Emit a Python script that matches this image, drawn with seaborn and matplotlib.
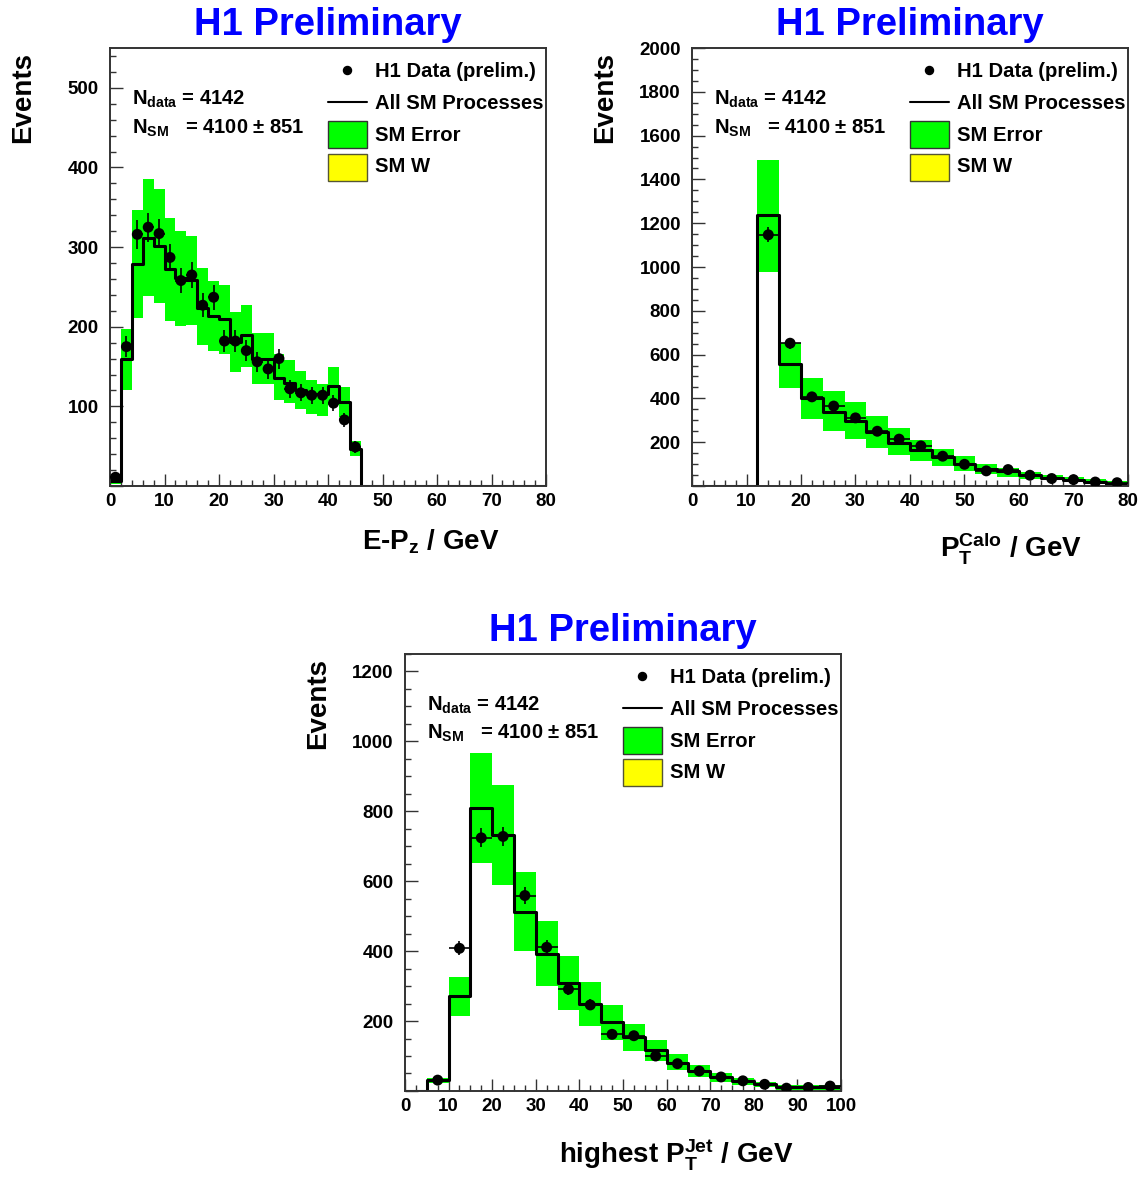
import numpy as np
import pandas as pd
import matplotlib
matplotlib.use("Agg")
import matplotlib.pyplot as plt
import seaborn as sns
from matplotlib.patches import Rectangle
from matplotlib.ticker import MultipleLocator, FuncFormatter

# ---- E-Pz distribution, 2 GeV bins starting at 0 ----
EPZ_BIN_LO = np.arange(0, 46, 2)
EPZ_DATA = [11, 175, 316, 325, 317, 287, 258, 265, 227, 237, 182, 182,
            170, 156, 147, 160, 122, 117, 114, 114, 104, 83, 49]
EPZ_SM = [6, 159, 279, 311, 301, 272, 261, 259, 223, 214, 210, 181,
          189, 159, 159, 135, 129, 120, 116, 115, 125, 106, 47]
EPZ_ERR_LO = [2, 120, 211, 238, 230, 207, 201, 202, 177, 169, 166, 143,
              150, 128, 128, 108, 104, 97, 91, 88, 102, 87, 38]
EPZ_ERR_HI = [14, 197, 346, 385, 373, 337, 320, 314, 274, 258, 253, 218,
              227, 192, 192, 166, 158, 144, 133, 128, 149, 124, 56]

# ---- PT calo, 4 GeV bins starting at 12 ----
CALO_BIN_LO = np.arange(12, 80, 4)
CALO_DATA = [1147, 652, 407, 365, 311, 250, 214, 183, 136, 99, 69, 75,
             49, 34, 29, 18, 15]
CALO_SM = [1236, 556, 400, 339, 298, 247, 198, 163, 133, 102, 79, 69,
           49, 38, 26, 18, 11]
CALO_ERR_LO = [975, 449, 307, 252, 215, 174, 142, 114, 92, 69, 57, 41,
               34, 26, 18, 11, 8]
CALO_ERR_HI = [1490, 655, 492, 433, 382, 319, 266, 212, 171, 136, 102, 84,
               64, 49, 41, 31, 23]

# ---- highest PT jet, 5 GeV bins starting at 5 ----
JET_BIN_LO = np.arange(5, 100, 5)
JET_DATA = [31, 408, 724, 728, 559, 411, 291, 246, 162, 158, 100, 78,
            57, 40, 29, 19, 8, 10, 14]
JET_SM = [31, 272, 809, 733, 513, 392, 310, 248, 196, 155, 117, 81,
          57, 40, 29, 19, 11, 10, 10]
JET_ERR_LO = [24, 215, 651, 590, 399, 299, 232, 186, 146, 115, 86, 60,
              41, 27, 17, 11, 4, 3, 2]
JET_ERR_HI = [38, 327, 968, 874, 625, 487, 387, 312, 246, 191, 146, 105,
              74, 52, 38, 27, 18, 16, 16]

N_DATA = 4142
N_SM = 4100
N_SM_ERR = 851

GREEN = "#00ff00"
YELLOW = "#ffff00"
BLUE = "#0000ff"

sns.set_theme(style="ticks")
plt.rcParams.update({
    "font.family": ["Liberation Sans", "DejaVu Sans"],
    "font.weight": "bold",
    "mathtext.fontset": "custom",
    "mathtext.rm": "Liberation Sans:bold",
    "mathtext.it": "Liberation Sans:bold",
    "mathtext.bf": "Liberation Sans:bold",
    "mathtext.sf": "Liberation Sans:bold",
    "mathtext.default": "rm",
    "text.color": "black",
    "axes.labelcolor": "black",
    "xtick.color": "black",
    "ytick.color": "black",
    "axes.linewidth": 1.4,
    "axes.edgecolor": "#333333",
    "xtick.direction": "in",
    "ytick.direction": "in",
})


def no_zero(v, pos):
    return "" if abs(v) < 1e-9 else f"{v:.0f}"


def draw_panel(ax, bin_lo, width, xmax, data, sm, err_lo, err_hi,
               ymax, ymajor, yminor, xmajor, xminor, xlabel, xlab_x, xlab_y):
    bin_lo = np.asarray(bin_lo, dtype=float)
    data = np.asarray(data, dtype=float)
    lo = np.asarray(err_lo, dtype=float)
    hi = np.asarray(err_hi, dtype=float)
    centers = bin_lo + width / 2
    df = pd.DataFrame({"x": centers, "sm": np.asarray(sm, dtype=float),
                       "data": data})

    # SM error band
    ax.bar(bin_lo, hi - lo, bottom=lo, width=width, align="edge",
           color=GREEN, linewidth=0, zorder=1)

    # all SM processes histogram
    edges = [float(e) for e in np.arange(0, xmax + width / 2, width)]
    sns.histplot(data=df, x="x", weights="sm", bins=edges, element="step",
                 fill=False, color="black", linewidth=2.2, ax=ax, zorder=2)

    # data points
    ax.errorbar(centers, data, yerr=np.sqrt(data), xerr=width / 2,
                fmt="none", ecolor="black", elinewidth=1.2, capsize=0,
                zorder=3)
    sns.scatterplot(data=df, x="x", y="data", color="black", s=62,
                    edgecolor="none", ax=ax, zorder=4)

    ax.set_xlim(0, xmax)
    ax.set_ylim(0, ymax)
    ax.xaxis.set_major_locator(MultipleLocator(xmajor))
    ax.xaxis.set_minor_locator(MultipleLocator(xminor))
    ax.yaxis.set_major_locator(MultipleLocator(ymajor))
    ax.yaxis.set_minor_locator(MultipleLocator(yminor))
    ax.yaxis.set_major_formatter(FuncFormatter(no_zero))
    ax.tick_params(which="major", length=9, width=1.0, labelsize=13.5,
                   top=False, right=False, color="#333333")
    ax.tick_params(which="minor", length=4.5, width=1.0,
                   top=False, right=False, color="#333333")
    ax.tick_params(axis="y", pad=8)
    ax.tick_params(axis="x", pad=5)
    for s in ax.spines.values():
        s.set_visible(True)
    ax.set_xlabel("")
    ax.set_ylabel("")

    ax.text(0.5, 1.061, "H1 Preliminary", transform=ax.transAxes,
            ha="center", va="center_baseline", color=BLUE, fontsize=27.5,
            fontweight="bold")
    ax.text(-0.2, 0.991, "Events", transform=ax.transAxes, rotation=90,
            ha="center", va="top", fontsize=20, fontweight="bold")
    ax.text(xlab_x, xlab_y, xlabel, transform=ax.transAxes,
            ha="right", va="baseline", fontsize=20, fontweight="bold")

    # event counts
    ax.text(0.05, 0.870, r"$N_{data}$" + f" = {N_DATA}",
            transform=ax.transAxes, ha="left", va="baseline", fontsize=14.5)
    ax.text(0.05, 0.805, r"$N_{SM}$" + f"   = {N_SM} ± {N_SM_ERR}",
            transform=ax.transAxes, ha="left", va="baseline", fontsize=14.5)

    # legend
    tx = 0.608
    rows = [0.950, 0.877, 0.805, 0.733]
    ax.plot([0.5436], [rows[0]], "o", color="black", ms=5.8,
            transform=ax.transAxes, clip_on=False, zorder=6)
    ax.plot([0.5, 0.5894], [rows[1], rows[1]], color="black", lw=1.5,
            transform=ax.transAxes, clip_on=False, zorder=6)
    ax.add_patch(Rectangle((0.5, 0.772), 0.0894, 0.0616,
                           facecolor=GREEN, edgecolor="#333333", lw=1.0,
                           transform=ax.transAxes, zorder=6))
    ax.add_patch(Rectangle((0.5, 0.697), 0.0894, 0.0616,
                           facecolor=YELLOW, edgecolor="#555533", lw=1.0,
                           transform=ax.transAxes, zorder=6))
    labels = ["H1 Data (prelim.)", "All SM Processes", "SM Error", "SM W"]
    for y, lab in zip(rows, labels):
        ax.text(tx, y, lab, transform=ax.transAxes, ha="left",
                va="center_baseline", fontsize=14.6, zorder=6)


fig = plt.figure(figsize=(11.44, 11.77), dpi=100)
ax1 = fig.add_axes([0.0962, 0.5871, 0.3811, 0.3721])
ax2 = fig.add_axes([0.6049, 0.5871, 0.3811, 0.3721])
ax3 = fig.add_axes([0.3540, 0.0731, 0.3811, 0.3713])

draw_panel(ax1, EPZ_BIN_LO, 2, 80, EPZ_DATA, EPZ_SM, EPZ_ERR_LO, EPZ_ERR_HI,
           550, 100, 20, 10, 2, r"$E$-$P_z$ / GeV", 0.894, -0.146)
draw_panel(ax2, CALO_BIN_LO, 4, 80, CALO_DATA, CALO_SM, CALO_ERR_LO,
           CALO_ERR_HI, 2000, 200, 50, 10, 2,
           r"$P_T^{Calo}$ / GeV", 0.894, -0.162)
draw_panel(ax3, JET_BIN_LO, 5, 100, JET_DATA, JET_SM, JET_ERR_LO, JET_ERR_HI,
           1250, 200, 50, 10, 2.5, r"highest $P_T^{Jet}$ / GeV", 0.89, -0.165)

fig.savefig("out.png", dpi=100)
